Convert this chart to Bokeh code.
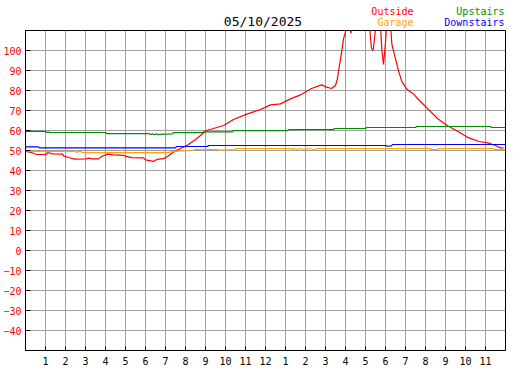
from bokeh.plotting import figure
from bokeh.layouts import column
from bokeh.models import FixedTicker, Range1d
from bokeh.core.properties import value
from bokeh.embed import file_html
from bokeh.resources import INLINE

chart_title = "05/10/2025"

hour_ticks = list(range(1, 24))
hour_labels = ["1", "2", "3", "4", "5", "6", "7", "8", "9", "10", "11", "12",
               "1", "2", "3", "4", "5", "6", "7", "8", "9", "10", "11"]
temp_ticks = list(range(-40, 101, 10))
x_start, x_end = 0, 24
y_start, y_end = -50, 110

outside_hours = [0.0, 0.3, 0.55, 1.05, 1.1, 1.35, 1.85, 1.9, 2.15, 2.45, 3.05, 3.15, 3.35, 3.65,
                 3.8, 4.1, 4.4, 4.9, 5.0, 5.3, 5.9, 6.0, 6.4, 6.6, 6.9, 7.1, 7.4, 7.75, 8.15,
                 8.5, 8.75, 9.05, 9.4, 9.9, 10.4, 11.1, 11.75, 12.25, 12.75, 13.25, 13.75,
                 14.3, 14.8, 15.05, 15.3, 15.5, 15.6, 15.67, 15.75, 15.83, 15.9, 16.05, 16.2,
                 16.27, 16.35, 16.8, 17.2, 17.3, 17.38, 17.45, 17.52, 17.75, 17.82, 17.9,
                 18.0, 18.05, 18.25, 18.32, 18.5, 18.67, 18.83, 19.08, 19.4, 19.6, 20.0,
                 20.6, 21.08, 21.67, 22.08, 22.67, 23.17, 23.5, 23.75, 23.9]
outside_temps = [49.6, 49.0, 48.0, 48.0, 49.0, 48.3, 48.2, 47.3, 46.5, 45.7, 45.8, 46.2, 45.8, 45.8,
                 47.0, 48.2, 47.8, 47.6, 47.2, 46.4, 46.3, 45.3, 44.6, 45.6, 45.9, 47.0, 49.3, 51.0,
                 53.0, 55.5, 57.5, 60.0, 61.0, 62.5, 65.5, 68.3, 70.5, 72.8, 73.3, 75.8, 77.8,
                 81.0, 82.8, 81.7, 81.0, 82.5, 86.0, 90.8, 95.8, 100.8, 105.8, 111.0, 114.0,
                 108.5, 114.0, 117.0, 112.0, 101.0, 100.0, 106.0, 113.0, 112.0, 100.0, 93.0,
                 104.0, 112.0, 113.0, 103.0, 95.8, 89.2, 84.2, 80.5, 78.3, 76.0, 72.0,
                 66.0, 62.5, 59.2, 56.7, 54.5, 53.7, 52.5, 51.3, 51.3]

garage_hours = [0.0, 0.25, 2.5, 2.55, 2.65, 2.8, 2.9, 7.1, 7.4, 8.4, 8.45, 9.6, 9.65, 10.5,
                10.55, 13.3, 13.35, 13.45, 13.6, 13.7, 14.0, 14.1, 14.5, 14.6, 20.25, 20.3,
                20.6, 20.65, 23.4, 23.45, 24.0]
garage_temps = [50.0, 49.6, 49.6, 49.0, 49.6, 49.3, 48.9, 48.9, 49.6, 50.0, 50.5, 50.5, 50.2, 50.5,
                51.0, 51.0, 50.5, 51.0, 50.5, 51.0, 50.5, 51.0, 50.5, 51.0, 51.0, 50.5,
                50.5, 51.0, 51.0, 50.4, 50.4]

upstairs_hours = [0.0, 1.0, 1.05, 1.15, 1.2, 4.0, 4.05, 6.2, 6.25, 6.35, 6.45, 6.55, 6.65, 6.9,
                  7.35, 7.4, 8.85, 8.9, 10.35, 10.4, 13.1, 13.15, 15.4, 15.45, 17.0, 17.05,
                  19.5, 19.55, 23.25, 23.3, 24.0]
upstairs_temps = [59.6, 59.6, 59.0, 59.3, 59.0, 59.0, 58.4, 58.4, 57.9, 58.4, 57.9, 58.4, 57.9, 58.2,
                  58.3, 58.9, 58.9, 59.3, 59.3, 59.9, 59.9, 60.4, 60.4, 61.0, 61.0, 61.5,
                  61.5, 62.0, 62.0, 61.5, 61.5]

downstairs_hours = [0.0, 0.65, 0.7, 7.5, 7.55, 9.1, 9.15, 18.0, 18.05, 18.3, 18.35, 24.0]
downstairs_temps = [51.8, 51.8, 51.3, 51.3, 52.0, 52.0, 52.5, 52.5, 52.2, 52.3, 53.0, 53.0]

series_names = ["Outside", "Garage", "Upstairs", "Downstairs"]
series_colors = ["#ff0000", "#ffa500", "#008c00", "#0000ff"]
series_hours = [outside_hours, garage_hours, upstairs_hours, downstairs_hours]
series_temps = [outside_temps, garage_temps, upstairs_temps, downstairs_temps]

FONT = "DejaVu Sans Mono"
WIDTH = 515
BORDER_L, BORDER_R = 25, 10

# ---- header (title + legend) ----
head = figure(width=WIDTH, height=29, output_backend="svg", toolbar_location=None,
              x_range=Range1d(x_start, x_end), y_range=Range1d(0, 29),
              x_axis_location=None, y_axis_location=None, title=None,
              min_border_left=BORDER_L, min_border_right=BORDER_R,
              min_border_top=0, min_border_bottom=0)
head.outline_line_color = None
head.xgrid.visible = False
head.ygrid.visible = False
head.background_fill_color = "white"
head.border_fill_color = "white"

legend_x = [19.4, 19.4, 23.95, 23.95]
legend_y = [18, 6.8, 18, 6.8]
head.text(x=legend_x, y=legend_y, text=series_names, text_color=series_colors,
          text_align="right", text_baseline="alphabetic",
          text_font=value(FONT), text_font_size="10px")
head.text(x=[11.875], y=[8], text=[chart_title], text_color="black",
          text_align="center", text_baseline="alphabetic",
          text_font=value(FONT), text_font_size="13px")

# ---- main chart ----
p = figure(width=WIDTH, height=341, output_backend="svg", toolbar_location=None, title=None,
           x_range=Range1d(x_start, x_end), y_range=Range1d(y_start, y_end),
           min_border_left=BORDER_L, min_border_right=BORDER_R,
           min_border_top=1, min_border_bottom=20)
p.background_fill_color = "white"
p.border_fill_color = "white"
p.outline_line_color = "black"
p.outline_line_width = 1

p.xaxis.ticker = FixedTicker(ticks=hour_ticks)
p.xaxis.major_label_overrides = {h: lbl for h, lbl in zip(hour_ticks, hour_labels)}
p.yaxis.ticker = FixedTicker(ticks=temp_ticks)
p.xgrid.ticker = FixedTicker(ticks=hour_ticks)
p.ygrid.ticker = FixedTicker(ticks=temp_ticks)
for g in (p.xgrid, p.ygrid):
    g.grid_line_color = "#a0a0a0"
    g.grid_line_width = 1

for ax in (p.xaxis, p.yaxis):
    ax.axis_line_color = "black"
    ax.major_tick_line_color = "black"
    ax.major_tick_in = 5
    ax.major_tick_out = 0
    ax.minor_tick_line_color = None
    ax.major_label_text_font = FONT
    ax.major_label_text_font_size = "10px"
p.xaxis.major_tick_in = 4
p.xaxis.major_label_text_color = "black"
p.xaxis.major_label_standoff = 6
p.yaxis.major_label_text_color = "#ff0000"
p.yaxis.major_label_standoff = 4

for xs, ys, color in zip(series_hours, series_temps, series_colors):
    p.line(xs, ys, line_color=color, line_width=1.2)

layout = column(head, p, spacing=0)
open("out.html", "w").write(file_html(layout, INLINE))
